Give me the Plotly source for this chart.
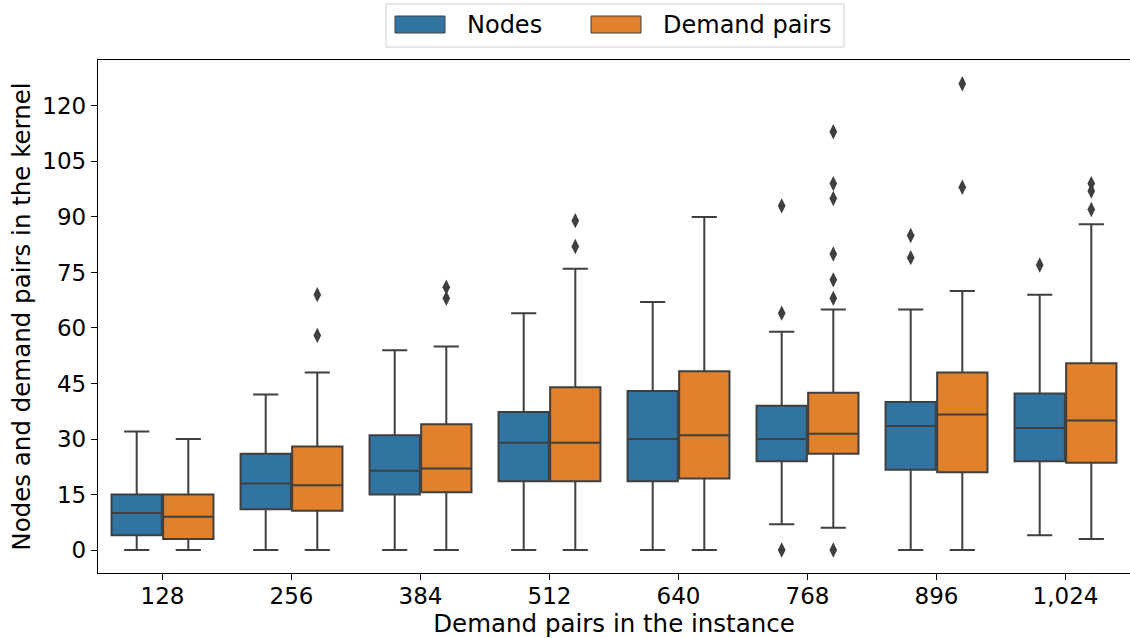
import plotly.graph_objects as go

# Number of demand pairs in the input instance (x categories)
groups = ["128", "256", "384", "512", "640", "768", "896", "1,024"]

# Kernel size statistics: nodes
nodes_low = [0, 0, 0, 0, 0, 7, 0, 4]
nodes_q1 = [4, 11, 15, 18.6, 18.6, 24, 21.7, 24]
nodes_med = [10, 18, 21.4, 29, 30, 30, 33.5, 33]
nodes_q3 = [15, 26, 31, 37.3, 43, 39, 40, 42.3]
nodes_high = [32, 42, 54, 64, 67, 59, 65, 69]
nodes_out = [[], [], [], [], [], [0, 64, 93], [79, 85], [77]]

# Kernel size statistics: demand pairs
pairs_low = [0, 0, 0, 0, 0, 6, 0, 3]
pairs_q1 = [3, 10.6, 15.6, 18.6, 19.3, 26, 21, 23.6]
pairs_med = [9, 17.5, 22, 29, 31, 31.4, 36.6, 35]
pairs_q3 = [15, 28, 34, 44, 48.3, 42.5, 48, 50.5]
pairs_high = [30, 48, 55, 76, 90, 65, 70, 88]
pairs_out = [[], [58, 69], [68, 71], [82, 89], [], [0, 68, 73, 80, 95, 99, 113], [98, 126], [92, 97, 99]]

y_ticks = [0, 15, 30, 45, 60, 75, 90, 105, 120]

BLUE = "#3274a1"
ORANGE = "#e1812c"
EDGE = "#3f3f3f"
FONT = "DejaVu Sans"
SHIFT = 0.2
BOX_W = 0.39

W, H = 1130, 638
M_L, M_R, M_T, M_B = 98, 0, 60, 65
PLOT_W = W - M_L - M_R
PLOT_H = H - M_T - M_B


def px_x(px):
    """Horizontal pixel position -> paper fraction."""
    return (px - M_L) / PLOT_W


def px_y(py):
    """Vertical pixel position (from top) -> paper fraction."""
    return (H - M_B - py) / PLOT_H


series = [
    ("Nodes", BLUE, -SHIFT, nodes_low, nodes_q1, nodes_med, nodes_q3, nodes_high, nodes_out),
    ("Demand pairs", ORANGE, SHIFT, pairs_low, pairs_q1, pairs_med, pairs_q3, pairs_high, pairs_out),
]

fig = go.Figure()
for name, color, shift, low, q1, med, q3, high, outs in series:
    xs = [i + shift for i in range(len(groups))]
    fig.add_trace(go.Box(
        name=name,
        x=xs,
        lowerfence=low,
        q1=q1,
        median=med,
        q3=q3,
        upperfence=high,
        width=BOX_W,
        whiskerwidth=0.5,
        fillcolor=color,
        line=dict(color=EDGE, width=2),
        boxpoints=False,
        hoverinfo="skip",
        showlegend=False,
    ))
    ox, oy = [], []
    for x, vals in zip(xs, outs):
        for v in vals:
            ox.append(x)
            oy.append(v)
    fig.add_trace(go.Scatter(
        x=ox, y=oy, mode="markers", showlegend=False,
        marker=dict(symbol="diamond-tall", size=11, color=EDGE, line=dict(width=0)),
        hoverinfo="skip",
    ))

# Legend frame with large colour swatches above the axes
shapes = [dict(
    type="rect", xref="paper", yref="paper",
    x0=px_x(386), x1=px_x(844), y0=px_y(47), y1=px_y(4),
    line=dict(color="#d0d0d0", width=1), fillcolor="white", layer="above",
)]
annotations = []
legend_items = [("Nodes", BLUE, 395), ("Demand pairs", ORANGE, 591)]
for label, color, sx in legend_items:
    shapes.append(dict(
        type="rect", xref="paper", yref="paper",
        x0=px_x(sx), x1=px_x(sx + 50), y0=px_y(33), y1=px_y(16),
        line=dict(color=EDGE, width=1), fillcolor=color, layer="above",
    ))
    annotations.append(dict(
        text=label, xref="paper", yref="paper",
        x=px_x(sx + 70), y=px_y(25), xanchor="left", yanchor="middle",
        showarrow=False, font=dict(size=24, family=FONT, color="black"),
    ))

fig.update_layout(
    width=W, height=H,
    margin=dict(l=M_L, r=M_R, t=M_T, b=M_B),
    paper_bgcolor="white",
    plot_bgcolor="white",
    font=dict(family=FONT, size=23, color="black"),
    showlegend=False,
    shapes=shapes,
    annotations=annotations,
)

fig.update_xaxes(
    range=[-0.5, 7.5],
    tickmode="array",
    tickvals=list(range(len(groups))),
    ticktext=groups,
    tickfont=dict(size=23),
    ticks="outside", ticklen=6, tickcolor="black", tickwidth=1,
    ticklabelstandoff=-4,
    showline=True, linecolor="black", linewidth=1.3, mirror=True,
    showgrid=False, zeroline=False,
    title=dict(text="Demand pairs in the instance", standoff=5, font=dict(size=24.5)),
)
fig.update_yaxes(
    range=[-6.2, 132.4],
    tickmode="array",
    tickvals=y_ticks,
    tickfont=dict(size=23),
    ticks="outside", ticklen=6, tickcolor="black", tickwidth=1,
    showline=True, linecolor="black", linewidth=1.3,
    showgrid=False, zeroline=False,
    title=dict(text="Nodes and demand pairs in the kernel", standoff=4, font=dict(size=24.5)),
)

fig.write_html("out.html")
